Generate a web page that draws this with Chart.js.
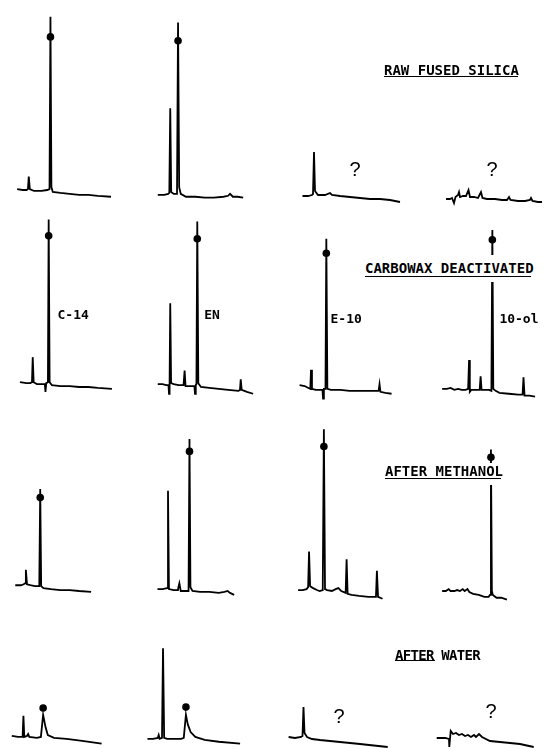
<!DOCTYPE html>
<html>
<head>
<meta charset="utf-8">
<script src="https://cdn.jsdelivr.net/npm/chart.js@4.4.0/dist/chart.umd.min.js"></script>
<style>
html,body{margin:0;padding:0;background:#fff;}
body{position:relative;width:545px;height:749px;overflow:hidden;}
canvas.panel{position:absolute;}
.title{position:absolute;z-index:5;font:bold 14px "DejaVu Sans Mono",monospace;line-height:14px;color:#000;white-space:nowrap;}
.title.box{background:#fff;}
.uline{position:absolute;z-index:6;height:0;border-top:1.6px solid #000;}
</style>
</head>
<body>
<script>
// ---------------- DATA ----------------
// rows = column treatments, columns = test compounds
const rowTitles = ['RAW FUSED SILICA', 'CARBOWAX DEACTIVATED', 'AFTER METHANOL', 'AFTER WATER'];
const compounds = ['C-14', 'EN', 'E-10', '10-ol'];

// chromatogram traces: [retention time, detector response]
const raw_c14 = [[14,13],[20,12],[24,12],[25.5,13],[26.4,26],[27.5,13],[32,11],[40,11],[46,12],[48.5,13],[49.5,192],[50.5,15],[52,10],[60,9],[70,8],[80,7],[90,7],[100,6],[114,5]];
const raw_en  = [[20,7],[27,7],[31,8],[32.3,9],[33.3,97],[34.3,10],[37,8],[40.5,8],[41.6,186],[42.8,15],[44.5,8],[50,5],[60,5],[70,4],[80,4],[90,5],[95,6],[97,8],[100,5],[105,5],[111,4]];
const raw_e10 = [[22.5,9],[28,9],[32,10],[33,11],[34,53],[35,14],[38,10],[45,10],[50,12],[52,10],[60,9],[70,8],[80,7],[90,6],[100,6],[110,5],[120,3]];
const raw_ol  = [[21,6],[25,6],[27,7],[29,2],[30.5,8],[33,10],[34,13],[35,8],[38,9],[41,9],[43.5,15],[45,8],[49,8],[53,7],[56,13],[57.5,7],[62,6],[70,6],[77,5],[82,5],[84,8],[85.5,5],[93,4],[100,4],[105,5],[106,7],[107.5,4],[113,3],[117,3]];

const cwx_c14 = [[17,17],[24,16],[28,16],[29.8,17],[30.6,43],[31.6,17],[35,15],[40,15],[43.5,15],[44.2,7],[45,16],[46.8,17],[47.6,186],[48.6,17],[51,14],[60,13],[70,13],[80,12],[90,12],[100,11],[115,10]];
const cwx_en  = [[20,15],[25,15],[29,14],[31.4,14],[32,5],[32.6,16],[33.3,99],[34.2,16],[37,15],[42,14],[47.5,14],[48.6,29],[49.6,13],[55,13],[59,13],[59.7,5],[60.5,14],[61.2,15],[62.1,184],[63.2,16],[66,12],[75,11],[85,10],[95,9],[106,8],[107.6,9],[108.4,20],[109.4,9],[115,7],[121.6,5]];
const cwx_e10 = [[16.6,14],[22,13],[26,11],[28,10],[28.8,30],[29.8,10],[34,9],[41,9],[41.6,0],[42.5,10],[44.2,10],[45.1,166],[46.2,10],[50,9],[60,9],[70,8],[80,8],[90,8],[100.8,8],[101.8,15],[102.8,7],[108,6],[114.6,5]];
const cwx_ol  = [[14,10],[19,10],[23,11],[27,9],[31,10],[35,9],[39,9],[41.7,10],[42.7,40],[43.5,7],[45,9],[50,9],[54,9],[55,23],[56,9],[60,9],[64,9],[66.5,8],[67.5,175],[68.5,10],[71,8],[75,6],[85,5],[95,4],[99.7,4],[100.7,22],[101.8,3],[107,3],[113,2]];

const meoh_c14 = [[12,18],[18,18],[21,19],[22.4,20],[23.3,34],[24.5,19],[28,18],[33,17],[37.6,17],[38.6,118],[39.6,17],[42,15],[50,14],[60,13],[70,13],[80,12],[92.8,11]];
const meoh_en  = [[19.7,14],[25,14],[29.9,15],[30.9,116],[31.9,14],[37,13],[41.5,13],[42,16],[43,20],[44.5,12],[49,12],[52.8,12],[53.8,170],[54.8,16],[57,12],[65,11],[75,11],[85,10],[91,11],[94.5,12],[97,10],[101.4,8]];
const meoh_e10 = [[15,13],[20,13],[24,14],[25.7,16],[26.7,53],[27.8,17],[31,15],[35,13],[38,12],[41.3,13],[42.5,180],[43.7,14],[46,13],[51,12],[55,14],[58,15],[61,12],[65.7,10],[66.7,45],[67.8,9],[72,8],[80,7],[90,6],[98,6],[99,33],[100.2,6],[105,4]];
const meoh_ol  = [[14,12],[18,12],[21,14],[23,12],[27,12],[30,13],[33,12],[36,14],[38,12],[41,14],[43,11],[47,9],[53,8],[59,6],[63.5,6],[65,8],[66,159],[67,12],[68,8],[72,5],[77,5],[83,3]];

const h2o_c14 = [[8.3,11],[15,10],[19.8,10],[20.7,32],[21.6,10],[24.5,11],[25.7,13],[27,10],[35,9],[39.3,10],[41.7,33],[44.3,20],[46.7,12],[53.3,9],[66.7,8],[83.3,6],[104,3]];
const h2o_en  = [[9,8],[15,8],[20,9],[21,12],[22,8],[24.5,9],[25.6,102],[26.8,9],[30,8],[37,8],[45,8],[47.7,9],[50,33],[52,23],[55,15],[60,10],[70,7],[85,5],[107.7,3]];
const h2o_e10 = [[8.6,13],[15,12],[21,13],[22.5,14],[23.5,43],[24.5,17],[27,13],[32,11],[40,10],[60,8],[80,6],[107.7,3]];
const h2o_ol  = [[11.7,12],[20,12],[24,11],[24.3,3],[25.7,19],[28,16],[31,17],[34,15],[37,16],[40,14],[43,15],[46,13],[49,15],[51,13],[54,16],[57,13],[65,9],[75,8],[85,7],[95,6],[108.7,3]];

// marked (dot) peak per panel: [retention time, response]
const marks_raw  = [[49.5,171],[41.6,167],null,null];
const marks_cwx  = [[47.6,169],[62.1,166],[45.1,151],[67.5,165]];
const marks_meoh = [[38.6,109],[53.8,157],[42.5,162],[66,151]];
const marks_h2o  = [[41.7,40],[50,41],null,null];

// ---------------- LAYOUT ----------------
const traces = [
  [raw_c14, raw_en, raw_e10, raw_ol],
  [cwx_c14, cwx_en, cwx_e10, cwx_ol],
  [meoh_c14, meoh_en, meoh_e10, meoh_ol],
  [h2o_c14, h2o_en, h2o_e10, h2o_ol]
];
const marks = [marks_raw, marks_cwx, marks_meoh, marks_h2o];
const ROW_ZERO = [205, 402, 606, 750];   // pixel of zero response per row
const COL_LEFT = [0, 135, 280, 425];     // pixel of zero time per column
const PW = 130, PH = 215, YMIN = -15, YMAX = 200;

// annotations in data coordinates of the panel
const LABEL_FONT = 'bold 13px "DejaVu Sans Mono", monospace';
const Q_FONT = '20px "Liberation Sans", Arial, sans-serif';
const annots = {
  '0-2': [{text:'?', x:75, y:35, font:Q_FONT, align:'center'}],
  '0-3': [{text:'?', x:67, y:35, font:Q_FONT, align:'center'}],
  '1-0': [{text:compounds[0], x:57, y:86, font:LABEL_FONT, align:'left'}],
  '1-1': [{text:compounds[1], x:69.5, y:86, font:LABEL_FONT, align:'left'}],
  '1-2': [{text:compounds[2], x:49.6, y:82, font:LABEL_FONT, align:'left'}],
  '1-3': [{text:compounds[3], x:75, y:82, font:LABEL_FONT, align:'left'}],
  '3-2': [{text:'?', x:59, y:33, font:Q_FONT, align:'center'}],
  '3-3': [{text:'?', x:66, y:38, font:Q_FONT, align:'center'}]
};

const annotPlugin = {
  id: 'annot',
  afterDatasetsDraw(chart, args, opts) {
    const {ctx, scales} = chart;
    (opts.items || []).forEach(it => {
      ctx.save();
      ctx.font = it.font;
      ctx.fillStyle = '#000';
      ctx.textAlign = it.align;
      ctx.textBaseline = 'middle';
      ctx.fillText(it.text, scales.x.getPixelForValue(it.x), scales.y.getPixelForValue(it.y));
      ctx.restore();
    });
  }
};

for (let r = 0; r < 4; r++) {
  for (let c = 0; c < 4; c++) {
    const cv = document.createElement('canvas');
    cv.className = 'panel';
    cv.width = PW; cv.height = PH;
    cv.style.width = PW + 'px'; cv.style.height = PH + 'px';
    cv.style.left = COL_LEFT[c] + 'px';
    cv.style.top = (ROW_ZERO[r] - YMAX) + 'px';
    document.body.appendChild(cv);
    const datasets = [{
      data: traces[r][c].map(p => ({x:p[0], y:p[1]})),
      showLine: true, borderColor:'#000', borderWidth:1.8, pointRadius:0, tension:0, fill:false, clip:false
    }];
    const m = marks[r][c];
    if (m) datasets.push({
      data: [{x:m[0], y:m[1]}], showLine:false, pointRadius:3.8,
      backgroundColor:'#000', borderColor:'#000', borderWidth:0, clip:false
    });
    new Chart(cv, {
      type: 'scatter',
      data: {datasets},
      options: {
        responsive:false, animation:false, devicePixelRatio:1,
        layout:{padding:0},
        events:[],
        scales:{
          x:{type:'linear', min:0, max:PW, display:false},
          y:{type:'linear', min:YMIN, max:YMAX, display:false}
        },
        plugins:{legend:{display:false}, tooltip:{enabled:false}, title:{display:false},
                 annot:{items: annots[r+'-'+c] || []}}
      },
      plugins:[annotPlugin]
    });
  }
}

// row titles: cy = text centre, pad = [top, bottom] white margin, ul = underline [x0, x1, y]
const titleSpecs = [
  {left:384, cy:70, pad:[0,0], ul:[384,518,76], ls:0},
  {left:365, cy:268, pad:[6,7], ul:[365,531,276], ls:0},
  {left:385, cy:471, pad:[1,7], ul:[385,501,478], ls:0},
  {left:395, cy:655, pad:[0,0], ul:[395,435,660], ls:-0.7}
];
titleSpecs.forEach((s, i) => {
  const d = document.createElement('div');
  d.className = 'title' + (s.pad[0] ? ' box' : '');
  d.textContent = rowTitles[i];
  d.style.left = s.left + 'px';
  d.style.top = (s.cy - 7 - s.pad[0]) + 'px';
  d.style.paddingTop = s.pad[0] + 'px';
  d.style.paddingBottom = s.pad[1] + 'px';
  d.style.letterSpacing = s.ls + 'px';
  document.body.appendChild(d);
  const u = document.createElement('div');
  u.className = 'uline';
  u.style.left = s.ul[0] + 'px';
  u.style.width = (s.ul[1] - s.ul[0]) + 'px';
  u.style.top = s.ul[2] + 'px';
  document.body.appendChild(u);
});
</script>
</body>
</html>
